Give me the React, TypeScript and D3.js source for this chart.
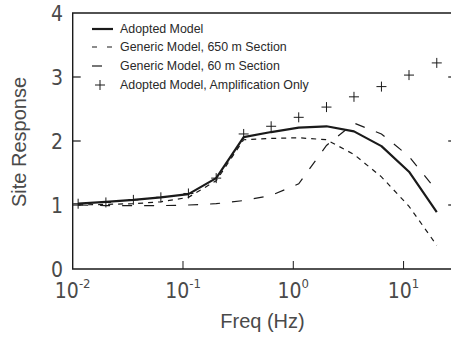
import { useRef, useEffect } from "react";
import * as d3 from "d3";

const FREQ = [0.0112, 0.02, 0.0355, 0.063, 0.112, 0.2, 0.355, 0.63, 1.12, 2.0, 3.55, 6.3, 11.2, 20];
const ADOPTED = [1.02, 1.05, 1.08, 1.12, 1.17, 1.42, 2.06, 2.14, 2.21, 2.23, 2.15, 1.92, 1.52, 0.89];
const GENERIC_650 = [1.0, 1.01, 1.02, 1.05, 1.12, 1.38, 2.02, 2.04, 2.05, 2.02, 1.79, 1.44, 0.98, 0.37];
const GENERIC_60 = [1.0, 0.99, 0.99, 0.99, 1.0, 1.02, 1.07, 1.15, 1.33, 1.93, 2.28, 2.11, 1.76, 1.22];
const AMPLIFICATION = [1.02, 1.04, 1.08, 1.12, 1.18, 1.42, 2.11, 2.23, 2.37, 2.53, 2.69, 2.85, 3.03, 3.22];

const Y_TICKS = [0, 1, 2, 3, 4];
const X_TICKS = [0.01, 0.1, 1, 10];
const X_EXPONENTS = ["-2", "-1", "0", "1"];
const LEGEND = [
  "Adopted Model",
  "Generic Model, 650 m Section",
  "Generic Model, 60 m Section",
  "Adopted Model, Amplification Only",
];

const INK = "#1a1a1a";
const LABEL = "#4a4a4a";
const NARROW = "'Liberation Sans Narrow', 'DejaVu Sans Condensed', 'Liberation Sans', sans-serif";
const SANS = "'Liberation Sans', Arial, sans-serif";

export default function App() {
  const svgRef = useRef<SVGSVGElement>(null);

  useEffect(() => {
    if (!svgRef.current) return;
    const svg = d3.select(svgRef.current);
    svg.selectAll("*").remove();

    const x = d3.scaleLog().domain([0.01, 30]).range([72.7, 456.2]);
    const y = d3.scaleLinear().domain([0, 4]).range([269, 13]);
    const [x0, x1] = x.range();
    const [yb, yt] = y.range();

    const g = svg.append("g");

    // frame
    g.append("path")
      .attr("d", `M${x0},${yt}H${x1}V${yb}H${x0}Z`)
      .attr("fill", "none").attr("stroke", INK).attr("stroke-width", 1.4);

    // inward ticks
    g.selectAll("line.yl").data([1, 2, 3]).join("line").attr("class", "yl")
      .attr("x1", x0).attr("x2", x0 + 8).attr("y1", (d) => y(d)).attr("y2", (d) => y(d))
      .attr("stroke", INK).attr("stroke-width", 1.2);
    g.selectAll("line.yr").data([1, 2, 3]).join("line").attr("class", "yr")
      .attr("x1", x1 - 8).attr("x2", x1).attr("y1", (d) => y(d)).attr("y2", (d) => y(d))
      .attr("stroke", INK).attr("stroke-width", 1.2);
    g.selectAll("line.xb").data([0.1, 1, 10]).join("line").attr("class", "xb")
      .attr("x1", (d) => x(d)).attr("x2", (d) => x(d)).attr("y1", yb).attr("y2", yb - 8)
      .attr("stroke", INK).attr("stroke-width", 1);

    // y tick labels
    g.selectAll("text.yt").data(Y_TICKS).join("text").attr("class", "yt")
      .attr("x", 63).attr("y", (d) => y(d) + 7.5)
      .attr("text-anchor", "end").attr("font-family", NARROW).attr("font-size", 21)
      .attr("fill", LABEL).text((d) => String(d));

    // x tick labels 10^n
    const xt = g.selectAll("text.xt").data(X_TICKS).join("text").attr("class", "xt")
      .attr("x", (d) => x(d)).attr("y", 298)
      .attr("text-anchor", "middle").attr("font-family", NARROW).attr("font-size", 21)
      .attr("fill", LABEL);
    xt.append("tspan").text("10");
    xt.append("tspan").attr("dy", -10).attr("font-size", 13).text((_, i) => X_EXPONENTS[i]);

    // axis titles
    svg.append("text")
      .attr("x", 262.5).attr("y", 328).attr("text-anchor", "middle")
      .attr("font-family", SANS).attr("font-size", 20).attr("fill", LABEL)
      .text("Freq (Hz)");
    svg.append("text")
      .attr("transform", "translate(25.5,142) rotate(-90)").attr("text-anchor", "middle")
      .attr("font-family", SANS).attr("font-size", 20).attr("fill", LABEL)
      .text("Site Response");

    const pts = (vals: number[]) => FREQ.map((f, i) => [f, vals[i]] as [number, number]);
    const line = d3.line<[number, number]>().x((d) => x(d[0])).y((d) => y(d[1]));

    g.append("path").datum(pts(GENERIC_650)).attr("d", line)
      .attr("fill", "none").attr("stroke", INK).attr("stroke-width", 1.2).attr("stroke-dasharray", "5 5");
    g.append("path").datum(pts(GENERIC_60)).attr("d", line)
      .attr("fill", "none").attr("stroke", INK).attr("stroke-width", 1.2).attr("stroke-dasharray", "10 12");
    g.append("path").datum(pts(ADOPTED)).attr("d", line)
      .attr("fill", "none").attr("stroke", INK).attr("stroke-width", 2.2).attr("stroke-linejoin", "round");

    // plus markers
    const cross = (sel: any) => sel
      .attr("d", "M-5,0H5M0,-5V5").attr("fill", "none").attr("stroke", INK).attr("stroke-width", 1);
    g.selectAll("path.amp").data(pts(AMPLIFICATION)).join("path").attr("class", "amp")
      .attr("transform", (d) => `translate(${x(d[0])},${y(d[1])})`)
      .call(cross);

    // legend
    const leg = g.append("g");
    const rows = [29, 47, 66, 85];
    const dashes = [null, "5 10", "10 12", null];
    LEGEND.forEach((label, i) => {
      const ry = rows[i];
      if (i < 3) {
        leg.append("line").attr("x1", 92).attr("x2", 113).attr("y1", ry).attr("y2", ry)
          .attr("stroke", INK).attr("stroke-width", i === 0 ? 2.2 : 1.2)
          .attr("stroke-dasharray", dashes[i]);
      } else {
        leg.append("path").attr("transform", `translate(100,${ry})`).call(cross);
      }
      leg.append("text").attr("x", 120).attr("y", ry + 4)
        .attr("font-family", SANS).attr("font-size", 12.4).attr("fill", "#2a2a2a")
        .text(label);
    });
  }, []);

  return (
    <svg
      ref={svgRef}
      width={451}
      height={340}
      style={{ position: "absolute", left: 0, top: 0, background: "#fff" }}
    />
  );
}
